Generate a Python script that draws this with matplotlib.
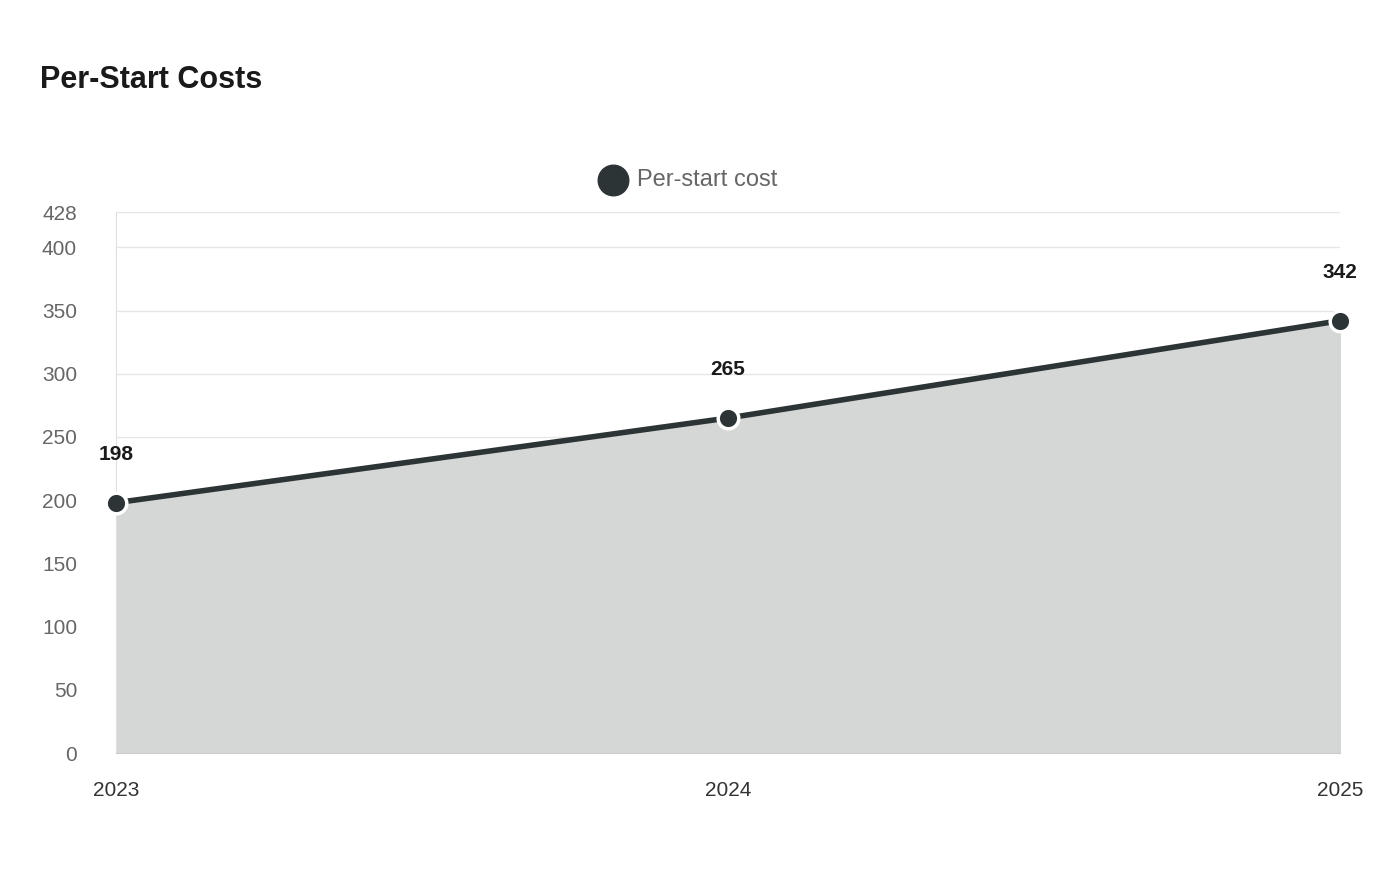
import matplotlib.pyplot as plt

years = ['2023', '2024', '2025']
costs = [198, 265, 342]
yticks = [0, 50, 100, 150, 200, 250, 300, 350, 400, 428]

plt.rcParams['font.family'] = ['Liberation Sans', 'DejaVu Sans']

fig = plt.figure(figsize=(14, 8.8), dpi=100)
ax = fig.add_axes([116/1400, 1 - 753/880, (1340-116)/1400, (753-212)/880])

x = list(range(len(years)))
col = '#2d3436'
ax.fill_between(x, costs, 0, color='#d5d6d6', zorder=1)
ax.plot(x, costs, color=col, lw=4, zorder=3)
ax.scatter(x, costs, s=220, color=col, edgecolor='white', linewidth=2.5, zorder=4, clip_on=False)
for xi, v in zip(x, costs):
    ax.annotate(str(v), (xi, v), xytext=(0, 28), textcoords='offset points',
                ha='center', va='bottom', fontsize=15, fontweight='bold', color='#1a1a1a')

ax.set_xlim(0, 2)
ax.set_ylim(0, 428)
ax.set_yticks(yticks)
ax.set_xticks(x)
ax.set_xticklabels(years)
ax.tick_params(axis='both', length=0, labelsize=15, labelcolor='#666666')
ax.tick_params(axis='x', pad=20, labelcolor='#333333')
ax.tick_params(axis='y', pad=28)
for lab in ax.get_yticklabels():
    lab.set_horizontalalignment('right')
ax.grid(axis='y', color='#e6e6e6', lw=1, zorder=0)
ax.set_axisbelow(True)
for s in ['top', 'right']:
    ax.spines[s].set_visible(False)
ax.spines['left'].set_color('#e0e0e0')
ax.spines['bottom'].set_color('#cccccc')

fig.text(40/1400, 1 - 80/880, 'Per-Start Costs', fontsize=22, fontweight='bold', va='center', color='#1a1a1a')
fig.scatter = None
ax.scatter([], [])
fig.add_artist(plt.Line2D([613/1400], [1 - 180/880], marker='o', markersize=22, color=col, transform=fig.transFigure))
fig.text(637/1400, 1 - 180/880, 'Per-start cost', fontsize=17, va='center', color='#666666')

fig.savefig('out.png')
